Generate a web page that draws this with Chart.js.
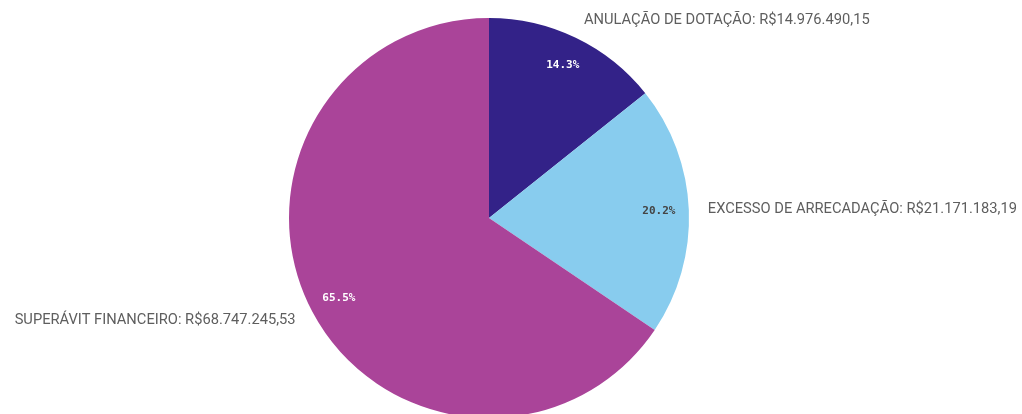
<!DOCTYPE html>
<html>
<head>
<meta charset="utf-8">
<script src="https://cdn.jsdelivr.net/npm/chart.js@4"></script>
<style>
  html, body { margin: 0; padding: 0; background: #fff; overflow: hidden; }
  #wrap { width: 1022px; height: 418px; position: relative; }
</style>
</head>
<body>
<div id="wrap"><canvas id="pieChart"></canvas></div>
<script>
// Dados do gráfico
const categories = ["ANULAÇÃO DE DOTAÇÃO", "EXCESSO DE ARRECADAÇÃO", "SUPERÁVIT FINANCEIRO"];
const values = [14976490.15, 21171183.19, 68747245.53];
const sliceColors = ["#332288", "#88CCEE", "#AA4499"];
const pctColors = ["#ffffff", "#444444", "#ffffff"];

// formata no padrão brasileiro: 14.976.490,15
function formatBRL(v) {
    const parts = v.toFixed(2).split(".");
    const intPart = parts[0].replace(/\B(?=(\d{3})+(?!\d))/g, ".");
    return "R$" + intPart + "," + parts[1];
}

const total = values.reduce((s, v) => s + v, 0);

// plugin para desenhar rótulos externos e percentuais
const labelPlugin = {
    id: 'pieLabels',
    afterDatasetsDraw(chart) {
        const ctx = chart.ctx;
        const meta = chart.getDatasetMeta(0);
        meta.data.forEach((arc, i) => {
            const p = arc.getProps(['x', 'y', 'startAngle', 'endAngle', 'outerRadius'], true);
            const mid = (p.startAngle + p.endAngle) / 2;
            const cos = Math.cos(mid), sin = Math.sin(mid);

            // percentual dentro da fatia
            const rIn = p.outerRadius * 0.85;
            ctx.save();
            ctx.font = "bold 11px 'DejaVu Sans Mono'";
            ctx.fillStyle = pctColors[i];
            ctx.textAlign = "center";
            ctx.textBaseline = "middle";
            ctx.fillText((values[i] / total * 100).toFixed(1) + "%", p.x + cos * rIn, p.y + sin * rIn);

            // rótulo externo
            const rOut = p.outerRadius + 19;
            ctx.font = "14.7px Roboto";
            ctx.fillStyle = "#5e5e5e";
            ctx.textAlign = cos >= 0 ? "left" : "right";
            ctx.fillText(categories[i] + ": " + formatBRL(values[i]), p.x + cos * rOut, p.y + sin * rOut);
            ctx.restore();
        });
    }
};

new Chart(document.getElementById('pieChart'), {
    type: 'pie',
    data: {
        labels: categories,
        datasets: [{
            data: values,
            backgroundColor: sliceColors,
            borderWidth: 0
        }]
    },
    options: {
        responsive: true,
        maintainAspectRatio: false,
        animation: false,
        layout: { padding: { top: 18, bottom: 0, left: 0, right: 44 } },
        plugins: {
            legend: { display: false },
            tooltip: { enabled: false }
        }
    },
    plugins: [labelPlugin]
});
</script>
</body>
</html>
